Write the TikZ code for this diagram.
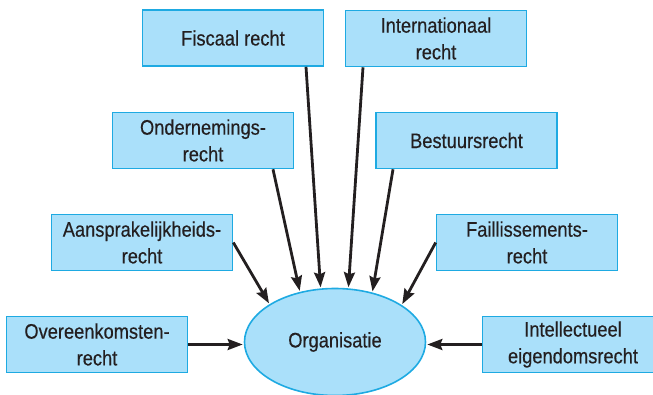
\documentclass[tikz,border=0pt]{standalone}
\usepackage{fontspec}
\setmainfont{Liberation Sans}[FakeStretch=0.87,FakeBold=0.4]
\usetikzlibrary{arrows.meta,shapes.geometric}
\definecolor{boxfill}{RGB}{170,224,250}
\definecolor{boxline}{RGB}{30,170,226}
\definecolor{ink}{RGB}{35,31,32}
\tikzset{
  lawbox/.style={draw=boxline, line width=1.6pt, fill=boxfill, minimum width=181pt, minimum height=56pt, inner sep=0pt, align=center, text=ink, font=\fontsize{21}{26.7}\selectfont},
  orgshape/.style={ellipse, draw=boxline, line width=1.6pt, fill=boxfill, minimum width=181pt, minimum height=107pt, inner sep=0pt, text=ink, font=\fontsize{21}{26.7}\selectfont},
  conn/.style={draw=ink, line width=2.8pt, -{Stealth[length=15pt,width=11pt,inset=2pt]}, shorten >=1pt}
}
\begin{document}
\begin{tikzpicture}[x=1pt,y=-1pt]
\useasboundingbox (0,0) rectangle (653,395);
\node[orgshape] (org) at (335,342) {Organisatie};
\node[lawbox] (fisc) at (233,38) {Fiscaal recht};
\node[lawbox] (intl) at (436,38.5) {Internationaal\\recht};
\node[lawbox] (ond) at (203,140.5) {Ondernemings-\\recht};
\node[lawbox] (best) at (466.5,140.5) {Bestuursrecht};
\node[lawbox] (aans) at (142,242.5) {Aansprakelijkheids-\\recht};
\node[lawbox] (fail) at (527,242.5) {Faillissements-\\recht};
\node[lawbox] (over) at (97,344.5) {Overeenkomsten-\\recht};
\node[lawbox] (intel) at (573,344.5) {Intellectueel\\eigendomsrecht};
\draw[conn] ([xshift=73pt]fisc.south) -- (org.105);
\draw[conn] ([xshift=-73pt]intl.south) -- (org.76);
\draw[conn] ([xshift=70pt]ond.south) -- (org.125.4);
\draw[conn] ([xshift=-73.5pt]best.south) -- (org.53.8);
\draw[conn] (aans.east) -- (org.150.2);
\draw[conn] (fail.west) -- (org.29.8);
\draw[conn] (over.east) -- (over.east -| org.west);
\draw[conn] (intel.west) -- (intel.west -| org.east);
\end{tikzpicture}
\end{document}
